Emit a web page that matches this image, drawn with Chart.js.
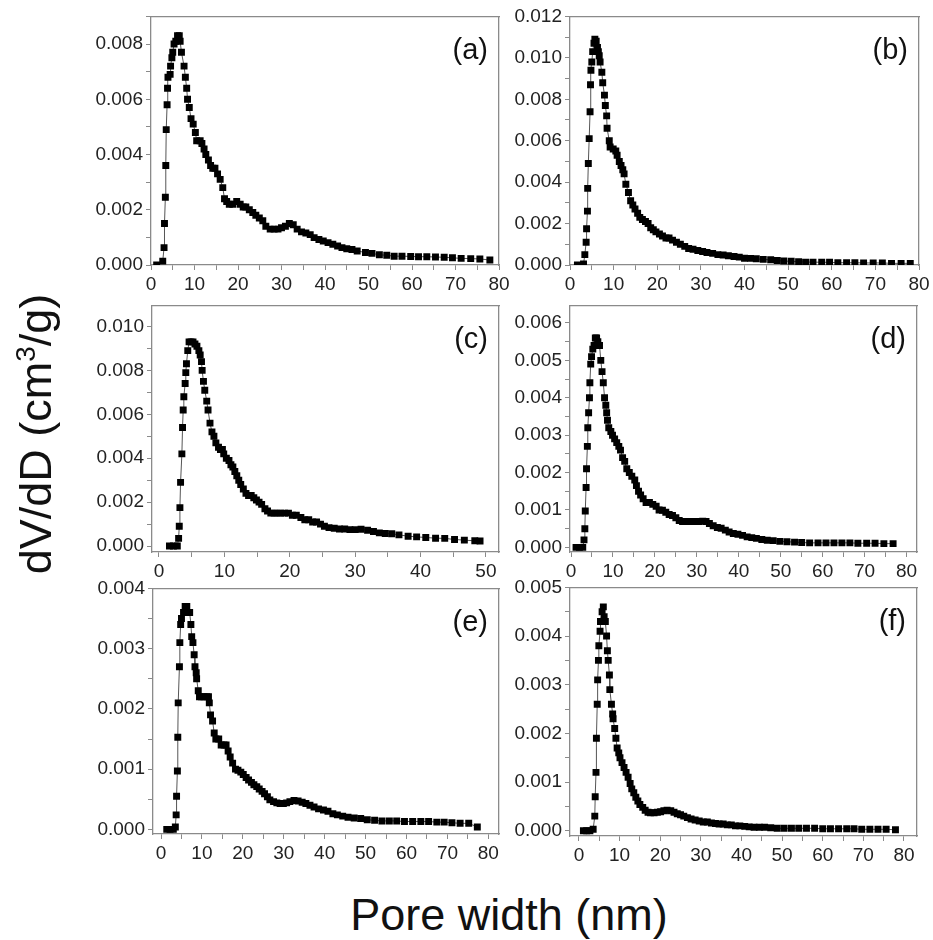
<!DOCTYPE html>
<html>
<head>
<meta charset="utf-8">
<script src="https://cdn.jsdelivr.net/npm/chart.js@4.4.1/dist/chart.umd.min.js"></script>
<style>
  html, body { margin: 0; padding: 0; background: #ffffff; }
  #page { position: relative; width: 933px; height: 940px; overflow: hidden; background: #fff; }
  canvas { position: absolute; }
  .title { position: absolute; font-family: "Liberation Sans", Arial, sans-serif; font-size: 45px; color: #111; white-space: nowrap; line-height: 1; }
  .title sup { font-size: 0.62em; vertical-align: 0.55em; line-height: 0; }
</style>
</head>
<body>
<div id="page">
  <canvas id="cA"></canvas>
  <canvas id="cB"></canvas>
  <canvas id="cC"></canvas>
  <canvas id="cD"></canvas>
  <canvas id="cE"></canvas>
  <canvas id="cF"></canvas>
  <div class="title" id="ytitle" style="left:34.5px; top:434px; transform: translate(-50%,-50%) rotate(-90deg);">dV/dD (cm<sup>3</sup>/g)</div>
  <div class="title" id="xtitle" style="left:509px; top:913.5px; transform: translate(-50%,-50%);">Pore width (nm)</div>
</div>
<script>
// ---------------- DATA ----------------
const panelLabels = ["(a)", "(b)", "(c)", "(d)", "(e)", "(f)"];
const xAxisTitle = "Pore width (nm)";
const yAxisTitle = "dV/dD (cm3/g)";

// Panel (a)
const poreA = [1.3,2.7,3.0,3.1,3.3,3.4,3.5,3.7,3.8,3.9,4.4,4.5,4.8,5.0,5.3,5.7,6.1,6.5,6.7,7.0,7.6,7.9,8.2,8.4,8.8,9.2,9.7,10.2,10.5,11.3,11.7,12.2,12.6,13.2,13.7,14.2,14.7,15.3,15.9,16.5,16.9,17.4,18.0,18.8,19.7,20.5,21.2,21.8,22.6,23.4,24.1,24.9,25.7,26.4,27.4,28.3,29.2,30.0,30.9,31.8,32.7,33.6,34.6,35.6,36.6,37.5,38.6,39.6,40.7,41.8,42.9,43.9,45.0,46.2,47.4,49.3,50.8,52.5,54.2,55.9,57.7,59.7,61.5,63.4,65.4,67.4,69.3,71.3,73.5,75.6,77.9];
const dvA   = [0,0.00014,0.00063,0.0015,0.00245,0.0036,0.0049,0.0058,0.0064,0.0068,0.0069,0.0072,0.0075,0.0077,0.0080,0.0081,0.0083,0.0083,0.0081,0.0077,0.0072,0.0068,0.0064,0.0060,0.0057,0.0053,0.0051,0.0048,0.0045,0.0045,0.0044,0.0042,0.0040,0.0038,0.0036,0.0035,0.0035,0.0033,0.0031,0.0028,0.0024,0.0023,0.0022,0.0022,0.0023,0.0022,0.0021,0.0021,0.0020,0.0019,0.0018,0.0017,0.0016,0.0014,0.0013,0.0013,0.0013,0.00135,0.0014,0.0015,0.00146,0.0013,0.0012,0.00116,0.0011,0.00099,0.00092,0.00087,0.00081,0.00075,0.00069,0.00063,0.00059,0.00056,0.00051,0.00045,0.00042,0.00037,0.00035,0.00032,0.00032,0.00031,0.0003,0.0003,0.00029,0.00028,0.00026,0.00024,0.00023,0.00022,0.00018];

// Panel (b)
const poreB = [1.7,3.1,3.4,3.7,3.8,4.0,4.05,4.2,4.4,4.6,4.7,4.8,5.0,5.2,5.5,5.7,6.0,6.3,6.5,6.7,6.9,7.3,7.5,7.9,8.1,8.4,8.5,9.0,9.2,9.9,10.5,10.8,11.3,11.7,12.1,12.4,12.8,13.4,13.9,14.4,14.9,15.5,16.0,16.6,17.3,17.9,18.5,19.1,19.7,20.5,21.2,22.0,22.7,23.5,24.4,25.3,26.3,27.2,28.2,29.3,30.4,31.4,32.7,33.9,35.1,36.3,37.6,38.8,40.0,41.4,42.7,44.3,46.0,47.5,49.0,50.7,52.4,54.0,55.7,57.7,59.5,61.4,63.4,65.3,67.3,69.5,71.6,73.7,75.9,78.0];
const dvB   = [0,0.00005,0.0005,0.0011,0.00175,0.0026,0.0037,0.0049,0.0061,0.0074,0.0087,0.0094,0.0098,0.0103,0.0107,0.0109,0.0108,0.0105,0.0103,0.0101,0.0098,0.0093,0.0088,0.0082,0.0077,0.0072,0.0066,0.0060,0.0057,0.0056,0.0055,0.0053,0.0050,0.0048,0.0046,0.0044,0.0039,0.0035,0.0031,0.0029,0.0027,0.0025,0.0023,0.0022,0.0021,0.0020,0.0018,0.0017,0.0016,0.0015,0.0014,0.0013,0.0013,0.0012,0.0011,0.0010,0.0009,0.0008,0.00076,0.0007,0.00065,0.0006,0.00056,0.0005,0.00048,0.00045,0.00041,0.00038,0.00033,0.00032,0.0003,0.00027,0.00025,0.00022,0.00019,0.00018,0.00016,0.00014,0.00014,0.00013,0.00013,0.00011,0.00011,0.00011,0.0001,0.0001,0.0001,0.00008,0.00008,0.00008];

// Panel (c)
const poreC = [1.6,2.2,2.8,3.0,3.1,3.2,3.3,3.5,3.6,3.7,3.8,4.0,4.1,4.2,4.4,4.6,4.9,5.2,5.5,5.8,6.1,6.3,6.5,6.6,6.8,7.0,7.3,7.5,7.8,8.1,8.4,8.7,9.1,9.4,9.7,9.9,10.3,10.7,11.0,11.3,11.6,11.9,12.2,12.5,12.9,13.3,13.7,14.1,14.5,14.9,15.3,15.7,16.2,16.6,17.1,17.6,18.1,18.6,19.2,19.8,20.4,21.0,21.7,22.3,22.9,23.5,24.1,24.7,25.3,26.0,26.8,27.6,28.4,29.2,30.0,30.9,31.9,32.8,33.7,34.6,35.6,36.7,38.1,39.4,40.8,42.3,43.7,45.2,46.7,48.3,49.1];
const dvC   = [0,0,0,0.00035,0.0009,0.00175,0.0029,0.0042,0.0054,0.0062,0.0068,0.0074,0.0079,0.0083,0.0089,0.0093,0.0093,0.0093,0.0092,0.0091,0.0089,0.0087,0.0084,0.0080,0.0075,0.0071,0.0066,0.0062,0.0056,0.0052,0.0050,0.0047,0.0045,0.0044,0.0044,0.0042,0.0040,0.0039,0.0037,0.0036,0.0034,0.0032,0.0030,0.0028,0.0026,0.0024,0.0023,0.0023,0.0022,0.0021,0.0020,0.0019,0.0017,0.0016,0.0015,0.0015,0.0015,0.0015,0.0015,0.0015,0.0014,0.0014,0.0013,0.0012,0.0012,0.0011,0.0011,0.0010,0.0009,0.00084,0.00081,0.00078,0.00078,0.00075,0.00075,0.00077,0.00072,0.00066,0.0006,0.00057,0.00056,0.00051,0.00045,0.00042,0.00039,0.00036,0.00035,0.0003,0.00027,0.00024,0.00023];

// Panel (d)
const poreD = [1.2,2.0,2.8,3.1,3.3,3.4,3.6,3.7,3.9,4.0,4.2,4.4,4.5,4.7,4.9,5.2,5.5,5.8,6.1,6.4,6.8,7.1,7.4,7.7,8.0,8.3,8.5,8.7,9.0,9.5,9.9,10.4,10.9,11.4,11.8,12.3,12.8,13.3,13.9,14.5,15.2,15.6,16.1,16.6,17.2,17.9,18.7,19.5,20.3,21.0,21.8,22.6,23.4,24.2,25.0,25.8,26.6,27.6,28.5,29.5,30.4,31.4,32.2,33.0,33.9,34.9,35.8,36.8,37.7,38.7,39.8,40.9,42.0,43.1,44.2,45.5,46.8,48.2,49.8,51.5,53.3,55.0,56.9,58.9,60.8,62.7,64.6,66.5,68.4,70.5,72.5,74.6,76.8];
const dvD   = [0,0,0,0.0002,0.0005,0.00097,0.0016,0.0021,0.0027,0.0032,0.0036,0.0040,0.0044,0.0049,0.0051,0.0053,0.0054,0.0056,0.0056,0.0055,0.0054,0.0050,0.0047,0.0044,0.0040,0.0038,0.0036,0.0034,0.0032,0.0031,0.0030,0.0029,0.0028,0.0027,0.0026,0.0024,0.0023,0.0021,0.0020,0.0019,0.0018,0.00165,0.0015,0.0014,0.0013,0.0012,0.0012,0.00115,0.0011,0.0010,0.00099,0.00094,0.00088,0.00085,0.00079,0.00072,0.00069,0.00069,0.00069,0.00069,0.00069,0.0007,0.00069,0.00064,0.00058,0.00053,0.00051,0.00046,0.00041,0.00037,0.00035,0.00032,0.00028,0.00026,0.00024,0.00021,0.00019,0.00018,0.00016,0.00015,0.00014,0.00013,0.00012,0.00012,0.00012,0.00012,0.00012,0.00012,0.00011,0.00011,0.00011,0.0001,0.0001];

// Panel (e)
const poreE = [1.4,2.2,3.0,3.5,3.7,3.8,4.0,4.1,4.2,4.5,4.6,4.8,5.0,5.5,5.9,6.3,6.6,7.0,7.3,7.5,7.8,8.1,8.3,8.6,8.7,9.1,9.4,9.9,10.5,11.2,11.6,11.8,12.1,12.6,13.0,13.4,14.1,14.7,15.4,15.9,16.4,16.9,17.5,18.2,18.8,19.5,20.1,20.8,21.4,22.1,22.7,23.4,24.0,24.7,25.3,26.0,26.6,27.5,28.3,29.1,29.9,30.7,31.5,32.5,33.5,34.5,35.4,36.4,37.4,38.5,39.7,40.8,42.0,43.1,44.4,45.7,47.2,48.8,50.4,52.2,54.0,55.8,57.6,59.5,61.5,63.5,65.4,67.4,69.2,71.1,73.1,75.2,77.3];
const dvE   = [0,0,0,0.00004,0.00024,0.00055,0.00097,0.00153,0.0021,0.0027,0.0031,0.0034,0.0035,0.0036,0.0037,0.0037,0.0036,0.0036,0.0034,0.0032,0.0031,0.0029,0.0027,0.0026,0.0025,0.0023,0.0022,0.0022,0.0022,0.0022,0.0022,0.0021,0.0019,0.0018,0.0016,0.0015,0.0015,0.0014,0.0014,0.0014,0.0013,0.0012,0.0011,0.0010,0.00098,0.00095,0.00091,0.00086,0.00082,0.00078,0.00074,0.00071,0.00067,0.00063,0.00059,0.00054,0.00049,0.00046,0.00044,0.00043,0.00043,0.00044,0.00046,0.00048,0.00047,0.00045,0.00043,0.0004,0.00037,0.00034,0.00032,0.0003,0.00026,0.00024,0.00022,0.0002,0.00019,0.00018,0.00016,0.00015,0.00014,0.00014,0.00014,0.00013,0.00013,0.00013,0.00013,0.00012,0.00012,0.00011,0.0001,0.0001,0.00004];

// Panel (f)
const poreF = [1.1,1.9,2.7,3.5,3.9,4.0,4.2,4.3,4.5,4.6,4.8,4.9,5.2,5.3,5.7,6.0,6.2,6.5,6.8,7.0,7.2,7.5,7.6,8.0,8.3,8.4,8.8,9.1,9.4,9.8,10.1,10.6,11.1,11.6,12.1,12.6,13.0,13.5,14.0,14.5,15.0,15.7,16.3,17.0,17.6,18.5,19.3,20.1,20.9,21.7,22.6,23.4,24.2,25.0,25.8,26.7,27.6,28.6,29.6,30.6,31.6,32.6,33.6,34.5,35.5,36.5,37.5,38.5,39.6,40.8,41.9,43.1,44.4,45.7,47.2,48.8,50.5,52.3,54.1,56.0,58.0,60.0,61.9,63.9,65.9,67.7,69.6,71.6,73.6,75.6,77.9];
const dvF   = [0,0,0,0.00003,0.0003,0.0007,0.0012,0.0019,0.0026,0.0031,0.0035,0.0038,0.0041,0.0043,0.0045,0.0046,0.0044,0.0043,0.0040,0.0037,0.0035,0.0032,0.0029,0.0026,0.0024,0.0023,0.0021,0.0019,0.0017,0.0016,0.0015,0.0014,0.0013,0.0012,0.0011,0.00097,0.00086,0.00078,0.00069,0.00061,0.00054,0.00048,0.00042,0.00038,0.00037,0.00037,0.00038,0.00039,0.00041,0.00042,0.00041,0.00038,0.00035,0.00033,0.0003,0.00027,0.00024,0.00022,0.0002,0.00018,0.00018,0.00016,0.00015,0.00014,0.00014,0.00012,0.00012,0.0001,0.0001,0.00009,0.00008,0.00007,0.00007,0.00007,0.00006,0.00005,0.00005,0.00005,0.00005,0.00005,0.00005,0.00004,0.00004,0.00004,0.00004,0.00004,0.00003,0.00003,0.00003,0.00003,0.00002];

// Major tick values (labelled) for each panel
const xTicks80 = [0,10,20,30,40,50,60,70,80];
const xTicks50 = [0,10,20,30,40,50];
const yTicksA = [0,0.002,0.004,0.006,0.008];
const yTicksB = [0,0.002,0.004,0.006,0.008,0.010,0.012];
const yTicksC = [0,0.002,0.004,0.006,0.008,0.010];
const yTicksD = [0,0.001,0.002,0.003,0.004,0.005,0.006];
const yTicksE = [0,0.001,0.002,0.003,0.004];
const yTicksF = [0,0.001,0.002,0.003,0.004,0.005];

// ---------------- LAYOUT ----------------
const FONT = '"Liberation Sans", Arial, sans-serif';
const Y_W = 80, X_H = 40, PAD_T = 12, PAD_R = 18;
const FRAME = '#8a8a8a';

// chart area rectangles in page pixels and axis ranges
const panels = [
  {id:'cA', L:151, T:14,  R:499, B:265, xMin:0,     xMax:80,   yMin:0,         yMax:0.009,   x:poreA, y:dvA, xt:xTicks80, yt:yTicksA, label:panelLabels[0]},
  {id:'cB', L:570, T:14,  R:919, B:265, xMin:0,     xMax:80,   yMin:0,         yMax:0.012,   x:poreB, y:dvB, xt:xTicks80, yt:yTicksB, label:panelLabels[1]},
  {id:'cC', L:152, T:303, R:499, B:552, xMin:-1.07, xMax:52.0, yMin:-0.00027,  yMax:0.01096, x:poreC, y:dvC, xt:xTicks50, yt:yTicksC, label:panelLabels[2]},
  {id:'cD', L:570, T:303, R:917, B:552, xMin:-0.24, xMax:82.5, yMin:-0.000124, yMax:0.00647, x:poreD, y:dvD, xt:xTicks80, yt:yTicksD, label:panelLabels[3]},
  {id:'cE', L:153, T:586, R:499, B:834, xMin:-1.96, xMax:82.6, yMin:-0.000077, yMax:0.004,   x:poreE, y:dvE, xt:xTicks80, yt:yTicksE, label:panelLabels[4]},
  {id:'cF', L:570, T:585, R:917, B:836, xMin:-2.2,  xMax:83.2, yMin:-0.000108, yMax:0.005,   x:poreF, y:dvF, xt:xTicks80, yt:yTicksF, label:panelLabels[5]}
];

function withMinors(major, lo, hi) {
  const step = major[1] - major[0];
  const all = [];
  for (let i = 0; i < major.length; i++) {
    all.push(major[i]);
    const m = major[i] + step / 2;
    if (m <= hi + 1e-12) all.push(m);
  }
  const first = major[0] - step / 2;
  if (first >= lo) all.unshift(first);
  return all.filter(v => v >= lo - 1e-12 && v <= hi + 1e-12);
}
function isMajor(v, major) {
  const step = major[1] - major[0];
  return major.some(m => Math.abs(m - v) < step * 1e-6);
}

const panelLabelPlugin = {
  id: 'panelLabel',
  afterDraw(chart, args, opts) {
    const {ctx, chartArea} = chart;
    ctx.save();
    ctx.font = '29px ' + FONT;
    ctx.fillStyle = '#111';
    ctx.textAlign = 'right';
    ctx.textBaseline = 'middle';
    ctx.fillText(opts.text, chartArea.right - 11, chartArea.top + 35);
    ctx.restore();
  }
};

panels.forEach(p => {
  const cv = document.getElementById(p.id);
  const w = (p.R - p.L) + Y_W + PAD_R;
  const h = (p.B - p.T) + PAD_T + X_H;
  cv.width = w; cv.height = h;
  cv.style.width = w + 'px'; cv.style.height = h + 'px';
  cv.style.left = (p.L - Y_W) + 'px';
  cv.style.top = (p.T - PAD_T) + 'px';

  const xAll = withMinors(p.xt, p.xMin, p.xMax);
  const yAll = withMinors(p.yt, p.yMin, p.yMax);
  const pts = p.x.map((xv, i) => ({x: xv, y: p.y[i]}));

  new Chart(cv, {
    type: 'scatter',
    data: {
      datasets: [{
        data: pts,
        showLine: true,
        borderColor: '#555',
        borderWidth: 1,
        pointStyle: 'rect',
        pointRadius: 4.9,
        pointBackgroundColor: '#000',
        pointBorderColor: '#000',
        pointBorderWidth: 0,
        tension: 0
      }]
    },
    options: {
      responsive: false,
      animation: false,
      devicePixelRatio: 1,
      layout: { padding: { top: PAD_T, right: PAD_R, left: 0, bottom: 0 } },
      plugins: { legend: { display: false }, tooltip: { enabled: false }, panelLabel: { text: p.label } },
      scales: {
        x: {
          type: 'linear', position: 'bottom', min: p.xMin, max: p.xMax,
          afterFit: s => { s.height = X_H; },
          afterBuildTicks: s => { s.ticks = xAll.map(v => ({value: v})); },
          grid: { display: true, drawOnChartArea: false, drawTicks: true, tickLength: 5, tickColor: FRAME, tickWidth: 1 },
          border: { display: true, color: FRAME, width: 1.3 },
          ticks: {
            autoSkip: false, maxRotation: 0, minRotation: 0, padding: 3,
            color: '#222', font: { family: FONT, size: 19 },
            callback: v => isMajor(v, p.xt) ? String(Math.round(v)) : ''
          }
        },
        y: {
          type: 'linear', position: 'left', min: p.yMin, max: p.yMax,
          afterFit: s => { s.width = Y_W; },
          afterBuildTicks: s => { s.ticks = yAll.map(v => ({value: v})); },
          grid: { display: true, drawOnChartArea: false, drawTicks: true, tickLength: 5, tickColor: FRAME, tickWidth: 1 },
          border: { display: true, color: FRAME, width: 1.3 },
          ticks: {
            autoSkip: false, padding: 3,
            color: '#222', font: { family: FONT, size: 19 },
            callback: v => isMajor(v, p.yt) ? (Math.abs(v) < 1e-12 ? '0.000' : v.toFixed(3)) : ''
          }
        },
        x2: {
          type: 'linear', position: 'top', min: p.xMin, max: p.xMax, display: true,
          afterFit: s => { s.height = 0; },
          grid: { display: false }, ticks: { display: false },
          border: { display: true, color: FRAME, width: 1.3 }
        },
        y2: {
          type: 'linear', position: 'right', min: p.yMin, max: p.yMax, display: true,
          afterFit: s => { s.width = 0; },
          grid: { display: false }, ticks: { display: false },
          border: { display: true, color: FRAME, width: 1.3 }
        }
      }
    },
    plugins: [panelLabelPlugin]
  });
});
</script>
</body>
</html>
